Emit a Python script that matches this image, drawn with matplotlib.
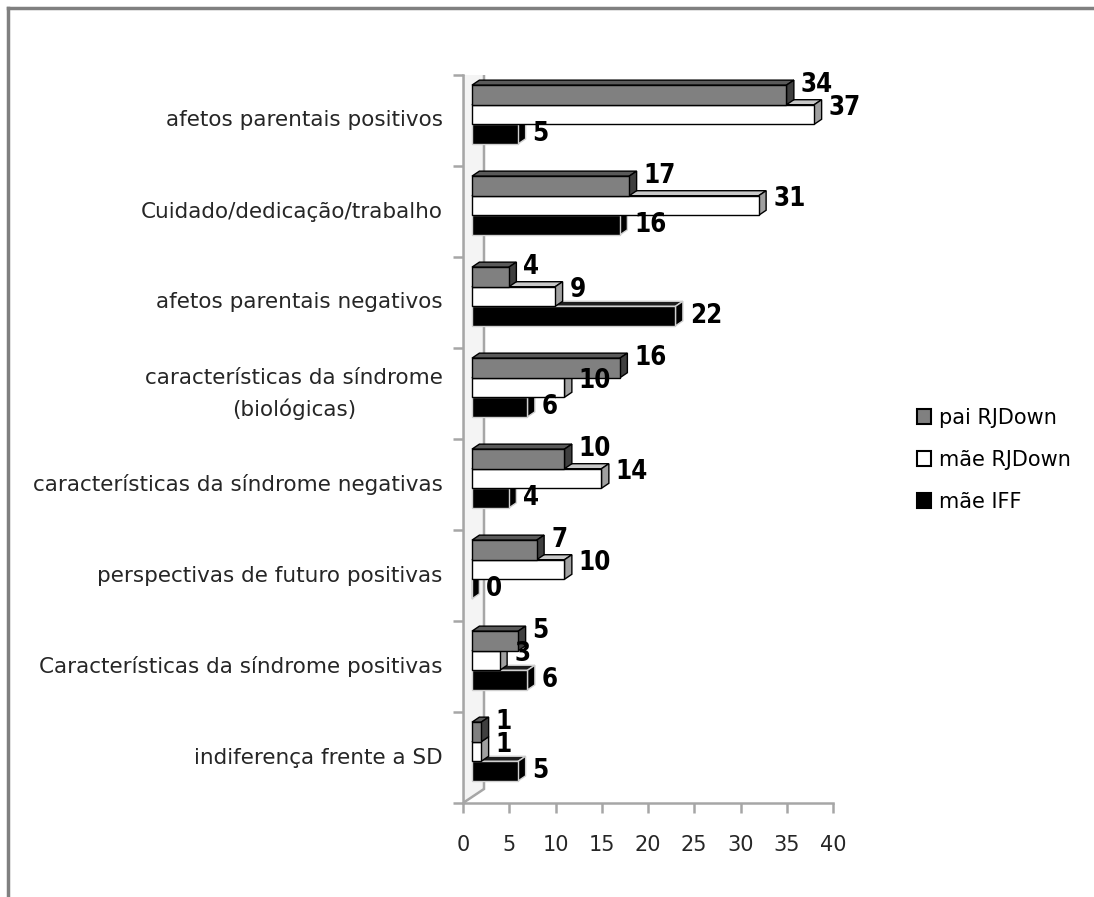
import numpy as np
import matplotlib
matplotlib.use("Agg")
import matplotlib.pyplot as plt
from matplotlib.patches import Polygon, Patch
from matplotlib.lines import Line2D

# categories, top to bottom
categories = ['afetos parentais positivos',
              'Cuidado/dedicação/trabalho',
              'afetos parentais negativos',
              'características da síndrome\n(biológicas)',
              'características da síndrome negativas',
              'perspectivas de futuro positivas',
              'Características da síndrome positivas',
              'indiferença frente a SD']

pai_rjdown = [34, 17, 4, 16, 10, 7, 5, 1]
mae_rjdown = [37, 31, 9, 10, 14, 10, 3, 1]
mae_iff = [5, 16, 22, 6, 4, 0, 6, 5]

series_names = ['pai RJDown', 'mãe RJDown', 'mãe IFF']
xticks = [0, 5, 10, 15, 20, 25, 30, 35, 40]

W, H = 1094, 897
fig = plt.figure(figsize=(W / 100, H / 100), dpi=100)
fig.patch.set_facecolor('white')

# axes: x 0..40 -> px 463..833, y 0..8 -> px 803..75
ax = fig.add_axes([463 / W, (H - 803) / H, 370 / W, 728 / H])
ax.set_xlim(0, 40)
ax.set_ylim(0, 8)

n = len(categories)
# 3D projection helpers (data units)
off = 0.97      # bars sit behind the front plane
gs = 0.066      # group shifted up by depth
h = 0.215       # bar thickness
fdx, fdy = 0.8, 0.055   # bar depth
wdx, wdy = 2.27, 0.154  # wall depth

# left wall
wall = Polygon([(0, 0), (wdx, wdy), (wdx, n + wdy), (0, n)], closed=True,
               facecolor='#f4f4f4', edgecolor='#a6a6a6', lw=1.8, zorder=1)
ax.add_patch(wall)

styles = [  # front, top, side, edge
    ('#808080', '#5a5a5a', '#3f3f3f', 'black'),
    ('white', '#c8c8c8', '#a0a0a0', 'black'),
    ('black', '#1e1e1e', 'black', '#d0d0d0'),
]
data = [pai_rjdown, mae_rjdown, mae_iff]
lab_raise = [0.11, 0.07, 0.0]

for i in range(n):
    yc = n - i - 0.5 + gs
    centers = [yc + h, yc, yc - h]
    # draw bottom bar first so upper bars hide its top face
    for s in [2, 1, 0]:
        v = data[s][i]
        front, top, side, edge = styles[s]
        z = 3 + (2 - s) * 0.1 + (n - i)
        y0 = centers[s] - h / 2
        ax.barh(centers[s], v, height=h, left=off, color=front,
                edgecolor=edge, lw=1, zorder=z + 0.02)
        ax.add_patch(Polygon([(off, y0 + h), (off + fdx, y0 + h + fdy),
                              (off + v + fdx, y0 + h + fdy), (off + v, y0 + h)],
                             closed=True, facecolor=top, edgecolor=edge,
                             lw=1, zorder=z))
        ax.add_patch(Polygon([(off + v, y0), (off + v + fdx, y0 + fdy),
                              (off + v + fdx, y0 + h + fdy), (off + v, y0 + h)],
                             closed=True, facecolor=side, edgecolor=edge,
                             lw=1, zorder=z + 0.01))
        ax.text(off + v + fdx + 0.75, centers[s] + lab_raise[s], str(v),
                ha='left', va='center', fontsize=18.5, fontweight='bold',
                family='DejaVu Sans', fontstretch='condensed',
                zorder=20, clip_on=False)

# category labels
for i, c in enumerate(categories):
    ax.text(-2.2, n - i - 0.5, c, ha='right', va='center', fontsize=15.5,
            multialignment='center', linespacing=1.6, color='#262626',
            clip_on=False)

for sp in ['top', 'right']:
    ax.spines[sp].set_visible(False)
ax.spines['left'].set_color('#a6a6a6')
ax.spines['left'].set_linewidth(1.8)
ax.spines['bottom'].set_color('#a6a6a6')
ax.spines['bottom'].set_linewidth(1.8)
ax.set_yticks(range(n + 1))
ax.set_yticklabels([])
ax.tick_params(axis='y', length=7, width=1.8, color='#a6a6a6')
ax.set_xticks(xticks)
ax.set_xticklabels([str(t) for t in xticks], fontsize=15, color='#262626')
ax.tick_params(axis='x', length=7, width=1.8, color='#a6a6a6', pad=16)

# legend
handles = [Patch(facecolor=styles[k][0], edgecolor='black', lw=1.5)
           for k in range(3)]
fig.legend(handles, series_names, loc='upper left',
           bbox_to_anchor=(898 / W, 1 - 389 / H), frameon=False,
           fontsize=15, handlelength=0.7, handleheight=0.7,
           handletextpad=0.35, labelspacing=1.05)

# outer frame (top and left only visible)
fig.add_artist(Line2D([8 / W, 1], [1 - 8 / H, 1 - 8 / H],
                      transform=fig.transFigure, color='#808080', lw=2.5))
fig.add_artist(Line2D([8 / W, 8 / W], [0, 1 - 8 / H],
                      transform=fig.transFigure, color='#808080', lw=2.5))

fig.savefig('out.png', dpi=100, facecolor='white')
